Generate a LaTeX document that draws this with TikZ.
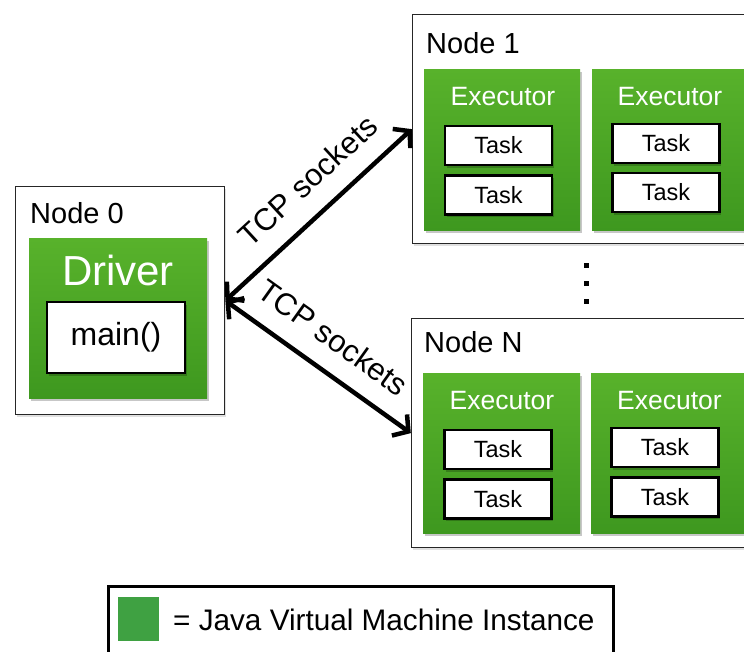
\documentclass[tikz,border=0pt]{standalone}
\usepackage{fontspec}
\setmainfont{Liberation Sans}
\usetikzlibrary{arrows.meta,shadows}
\definecolor{jvmtop}{HTML}{58B22B}
\definecolor{jvmbot}{HTML}{3E981F}
\definecolor{jvmkey}{HTML}{3FA142}
\newcommand{\fs}[1]{\fontsize{#1}{#1}\selectfont}

\begin{document}
\begin{tikzpicture}[x=1pt,y=-1pt,
  softshadow/.style={drop shadow={shadow xshift=1.5pt,shadow yshift=-2.5pt,opacity=0.22,fill=black}},
  hostbox/.style={draw=black!85,line width=1.6pt,fill=white,anchor=north west,inner sep=0pt,
    drop shadow={shadow xshift=1.5pt,shadow yshift=-2pt,opacity=0.12,fill=black}},
  hostlabel/.style={anchor=west,inner sep=0pt,font=\fs{29}},
  jvm/.style={anchor=north west,inner sep=0pt,top color=jvmtop,bottom color=jvmbot,softshadow},
  jvmlabel/.style={text=white,inner sep=0pt,font=\fs{#1}},
  taskbox/.style={draw=black,line width=2.4pt,fill=white,minimum width=107pt,minimum height=39pt,
    inner sep=0pt,font=\fs{23.5},softshadow},
  link/.style={line width=4.5pt,line cap=round,
    {Straight Barb[length=11pt,width=26pt,line width=4.5pt]}-{Straight Barb[length=11pt,width=26pt,line width=4.5pt]}},
  linklabel/.style={sloped,font=\fs{31},inner sep=0pt,anchor=south}
]
\useasboundingbox (0,0) rectangle (744,651);
\clip (0,0) rectangle (744,651);

% ---- Node 0: driver ----
\node[hostbox,minimum width=209pt,minimum height=228pt] (n0) at (14.8,185.8) {};
\node[hostlabel] (n0lab) at (30,213) {Node 0};
\node[jvm,minimum width=178pt,minimum height=160pt] (drv) at (29,238) {};
\node[jvmlabel=42] (drvlab) at (118,270) {Driver};
\node[taskbox,minimum width=138pt,minimum height=71pt,font=\fs{32}] (mainfn) at (116,337.5) {main()};

% ---- Node 1 ----
\node[hostbox,minimum width=360pt,minimum height=229pt] (n1) at (411.8,13.8) {};
\node[hostlabel] (n1lab) at (426,43) {Node 1};
\node[jvm,minimum width=156pt,minimum height=161pt] (e11) at (424,69) {};
\node[jvm,minimum width=156pt,minimum height=161pt] (e12) at (592,69) {};
\node[jvmlabel=26.5] (e11lab) at (503,97) {Executor};
\node[jvmlabel=26.5] (e12lab) at (670,97) {Executor};
\node[taskbox] (t111) at (498.5,145.5) {Task};
\node[taskbox] (t112) at (498.5,195) {Task};
\node[taskbox] (t121) at (666,143.5) {Task};
\node[taskbox] (t122) at (666,192.5) {Task};

% ---- Node N ----
\node[hostbox,minimum width=360pt,minimum height=229pt] (nN) at (410.8,317.8) {};
\node[hostlabel] (nNlab) at (424,342) {Node N};
\node[jvm,minimum width=157pt,minimum height=160pt] (eN1) at (423,373) {};
\node[jvm,minimum width=157pt,minimum height=160pt] (eN2) at (591,373) {};
\node[jvmlabel=26.5] (eN1lab) at (502,401) {Executor};
\node[jvmlabel=26.5] (eN2lab) at (669.5,401) {Executor};
\node[taskbox] (tN11) at (498,449.5) {Task};
\node[taskbox] (tN12) at (498,499) {Task};
\node[taskbox] (tN21) at (665,447.5) {Task};
\node[taskbox] (tN22) at (665,497) {Task};

% ---- vertical ellipsis between the worker nodes ----
\foreach \yy in {265,283,301}
  \fill (583.5,\yy-2.5) rectangle (588.5,\yy+2.5);

% ---- TCP links ----
\draw[link] (n0.east) -- node[linklabel,pos=0.56,yshift=19pt] (lk1) {TCP sockets} (n1.west);
\draw[link] (n0.east) -- node[linklabel,pos=0.48,yshift=19pt] (lk2) {TCP sockets} (nN.west);

% ---- legend ----
\node[draw=black,line width=3pt,fill=white,anchor=north west,inner sep=0pt,
      minimum width=505pt,minimum height=90pt] (legend) at (106.5,584.5) {};
\node[fill=jvmkey,anchor=north west,inner sep=0pt,minimum width=41pt,minimum height=44pt] (key) at (118,597) {};
\node[anchor=west,inner sep=0pt,font=\fs{29.7}] (keylab) at (173,620) {= Java Virtual Machine Instance};
\end{tikzpicture}
\end{document}
